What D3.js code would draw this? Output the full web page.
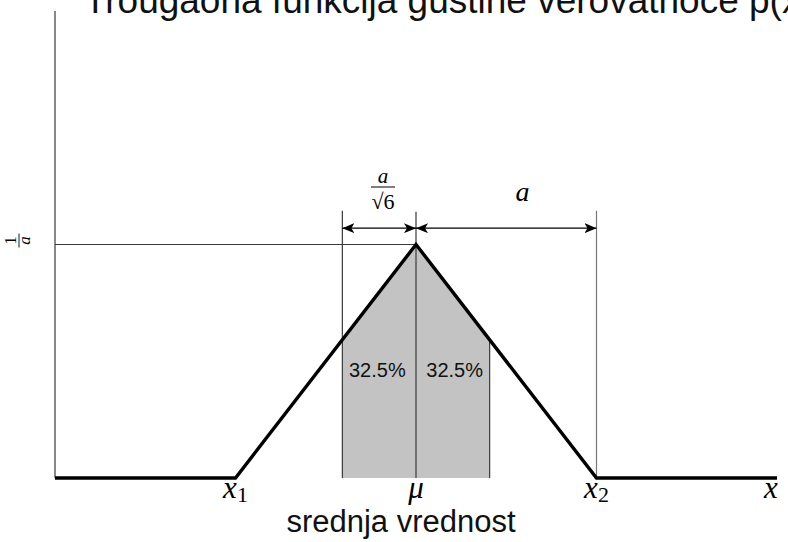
<!DOCTYPE html>
<html>
<head>
<meta charset="utf-8">
<script src="https://cdn.jsdelivr.net/npm/d3@7"></script>
<style>
  html, body { margin: 0; padding: 0; background: #fff; }
  svg { display: block; }
</style>
</head>
<body>
<svg id="chart" width="788" height="542"></svg>
<script>
// Triangular density with mean 0 and half-width a = 1
const densityX = [-2, -1, 0, 1, 2];
const densityY = [0, 0, 1, 0, 0];

// Shaded band of one standard deviation (a/√6) around the mean
const shadeX = [-0.408, -0.408, 0, 0.408, 0.408];
const shadeY = [0, 0.592, 1, 0.592, 0];
const shadePct = ["32.5%", "32.5%"];

// Positions of the annotations on the x axis
const sigmaX = 0.408;
const meanX = 0;
const halfWidthX = 1;
const peakY = 1;

const tickX = [-1, 0, 1, 2];
const tickLabels = [["x", "1"], ["μ", ""], ["x", "2"], ["x", ""]];

const titleText = "Trougaona funkcija gustine verovatnoće p(x)";
const axisTitle = "srednja vrednost";

const svg = d3.select("#chart");
const x = d3.scaleLinear().domain([-2, 2]).range([55, 777]);
const y = d3.scaleLinear().domain([0, 2]).range([478, 11]);

const serif = "'Liberation Serif', 'DejaVu Serif', serif";
const sans = "'Liberation Sans', Arial, sans-serif";

// arrowhead marker
const defs = svg.append("defs");
defs.append("marker")
  .attr("id", "arrow")
  .attr("viewBox", "0 0 12 10")
  .attr("refX", 12).attr("refY", 5)
  .attr("markerWidth", 12).attr("markerHeight", 10)
  .attr("markerUnits", "userSpaceOnUse")
  .attr("orient", "auto-start-reverse")
  .append("path")
  .attr("d", "M0,0 L12,5 L0,10 L3,5 Z")
  .attr("fill", "#000");

// shaded area
svg.append("path")
  .datum(shadeX.map((d, i) => [d, shadeY[i]]))
  .attr("d", d3.line().x(d => x(d[0])).y(d => y(d[1])))
  .attr("fill", "#c3c3c3")
  .attr("stroke", "none");

// thin guide lines
const thin = "#3a3a3a";
svg.append("line") // vertical axis
  .attr("x1", x(-2)).attr("x2", x(-2))
  .attr("y1", y(2)).attr("y2", y(0))
  .attr("stroke", thin).attr("stroke-width", 1.2);
svg.append("line") // 1/a level
  .attr("x1", x(-2)).attr("x2", x(meanX))
  .attr("y1", y(peakY)).attr("y2", y(peakY))
  .attr("stroke", thin).attr("stroke-width", 1.2);
svg.append("line") // left sigma edge, extended to the dimension line
  .attr("x1", x(-sigmaX)).attr("x2", x(-sigmaX))
  .attr("y1", y(1.145)).attr("y2", y(0))
  .attr("stroke", thin).attr("stroke-width", 1.2);
svg.append("line") // right sigma edge
  .attr("x1", x(sigmaX)).attr("x2", x(sigmaX))
  .attr("y1", y(shadeY[3])).attr("y2", y(0))
  .attr("stroke", thin).attr("stroke-width", 1.2);
svg.append("line") // mean
  .attr("x1", x(meanX)).attr("x2", x(meanX))
  .attr("y1", y(1.14)).attr("y2", y(0))
  .attr("stroke", thin).attr("stroke-width", 1.2);
svg.append("line") // x2
  .attr("x1", x(halfWidthX)).attr("x2", x(halfWidthX))
  .attr("y1", y(1.145)).attr("y2", y(0))
  .attr("stroke", "#777").attr("stroke-width", 1.2);

// dimension arrows
const dimY = y(1.07);
svg.append("line")
  .attr("x1", x(-sigmaX)).attr("x2", x(meanX))
  .attr("y1", dimY).attr("y2", dimY)
  .attr("stroke", "#000").attr("stroke-width", 1.2)
  .attr("marker-start", "url(#arrow)").attr("marker-end", "url(#arrow)");
svg.append("line")
  .attr("x1", x(meanX)).attr("x2", x(halfWidthX))
  .attr("y1", dimY).attr("y2", dimY)
  .attr("stroke", "#000").attr("stroke-width", 1.2)
  .attr("marker-start", "url(#arrow)").attr("marker-end", "url(#arrow)");

// density curve
svg.append("path")
  .datum(densityX.map((d, i) => [d, densityY[i]]))
  .attr("d", d3.line().x(d => x(d[0])).y(d => y(d[1])))
  .attr("fill", "none")
  .attr("stroke", "#000")
  .attr("stroke-width", 3.4)
  .attr("stroke-linejoin", "miter");

// percentage labels
[-sigmaX / 2 - 0.01, sigmaX / 2 + 0.01].forEach((cx, i) => {
  svg.append("text")
    .attr("x", x(cx)).attr("y", 377)
    .attr("text-anchor", "middle")
    .attr("font-family", sans).attr("font-size", 20)
    .attr("fill", "#111")
    .text(shadePct[i]);
});

// a/√6 label
const fracX = 383;
svg.append("text")
  .attr("x", fracX).attr("y", 183)
  .attr("text-anchor", "middle")
  .attr("font-family", serif).attr("font-style", "italic").attr("font-size", 21)
  .text("a");
svg.append("line")
  .attr("x1", fracX - 12).attr("x2", fracX + 12)
  .attr("y1", 187).attr("y2", 187)
  .attr("stroke", "#000").attr("stroke-width", 1);
svg.append("text")
  .attr("x", fracX).attr("y", 209)
  .attr("text-anchor", "middle")
  .attr("font-family", serif).attr("font-size", 22)
  .text("√6");

// a label
svg.append("text")
  .attr("x", x(0.59)).attr("y", 201)
  .attr("text-anchor", "middle")
  .attr("font-family", serif).attr("font-style", "italic").attr("font-size", 28)
  .text("a");

// 1/a label, rotated
const oneA = svg.append("g")
  .attr("transform", `translate(19,${y(peakY) - 4}) rotate(-90)`);
oneA.append("text")
  .attr("x", 0).attr("y", -3)
  .attr("text-anchor", "middle")
  .attr("font-family", serif).attr("font-size", 17)
  .text("1");
oneA.append("line")
  .attr("x1", -7).attr("x2", 7).attr("y1", 0).attr("y2", 0)
  .attr("stroke", "#000").attr("stroke-width", 0.9);
oneA.append("text")
  .attr("x", 0).attr("y", 11)
  .attr("text-anchor", "middle")
  .attr("font-family", serif).attr("font-style", "italic").attr("font-size", 17)
  .text("a");

// x-axis tick labels
tickX.forEach((v, i) => {
  const t = svg.append("text")
    .attr("x", x(v) - (i === 3 ? 6 : 0)).attr("y", 498)
    .attr("text-anchor", "middle")
    .attr("font-family", serif).attr("font-size", 31);
  t.append("tspan").attr("font-style", "italic").text(tickLabels[i][0]);
  if (tickLabels[i][1]) {
    t.append("tspan").attr("font-size", 22).attr("dy", 4).text(tickLabels[i][1]);
  }
});

// axis title
svg.append("text")
  .attr("x", 401).attr("y", 532)
  .attr("text-anchor", "middle")
  .attr("font-family", sans).attr("font-size", 31)
  .attr("fill", "#111")
  .text(axisTitle);

// chart title
svg.append("text")
  .attr("x", 84).attr("y", 13)
  .attr("font-family", sans).attr("font-size", 37)
  .attr("fill", "#111")
  .text(titleText);
</script>
</body>
</html>
